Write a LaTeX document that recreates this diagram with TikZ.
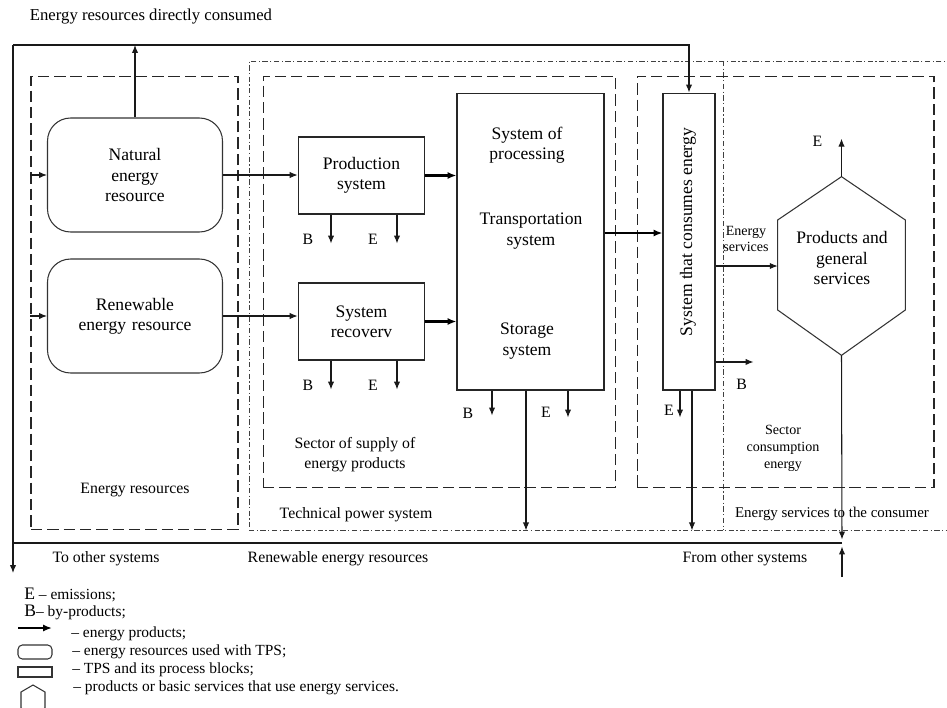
\documentclass[tikz,border=0pt]{standalone}
\usepackage{fontspec}
\setmainfont{Liberation Serif}
\usepackage{tikz}
\usetikzlibrary{shapes.geometric, arrows.meta}
\tikzstyle{resource} = [rectangle, rounded corners=0.46cm, minimum width=3.5cm, minimum height=2.28cm, text centered, text width=3.2cm, draw=black!80, line width=0.6pt, font=\fontsize{10}{11.5}\selectfont]
\tikzstyle{process} = [rectangle, minimum width=2.46cm, minimum height=1.54cm, text centered, text width=2.3cm, draw=black!85, line width=0.6pt, font=\fontsize{10}{11.5}\selectfont]
\tikzstyle{block} = [rectangle, minimum height=5.94cm, draw=black!85, line width=0.6pt]
\tikzstyle{sector} = [rectangle, draw=black!85, line width=0.6pt, dash pattern=on 6.5pt off 2.8pt]
\tikzstyle{region} = [rectangle, draw=black!75, line width=0.5pt, dash pattern=on 3pt off 1.4pt on 0.7pt off 1.4pt]
\tikzstyle{boxtxt} = [font=\fontsize{10}{11.5}\selectfont, align=center]
\tikzstyle{txt} = [font=\fontsize{9}{11.3}\selectfont, align=center]
\tikzstyle{smalltxt} = [font=\fontsize{8}{9.6}\selectfont, align=center]
\tikzstyle{legtxt} = [font=\fontsize{8.8}{10}\selectfont, anchor=west, inner sep=0pt]
\tikzstyle{arrow} = [-{Latex[length=4.5pt,width=3.6pt]}, draw=black!90, line width=0.6pt]
\tikzstyle{flow} = [-{Latex[length=5pt,width=4pt]}, draw=black, line width=1.4pt]

\begin{document}
\begin{tikzpicture}[x=0.02cm, y=-0.02cm]
	\useasboundingbox (0,0) rectangle (947,707);
	
	% frames of the sectors
	\node (tpsbox) [region, minimum width=14.8cm, minimum height=9.38cm] at (619,295.5) {};
	\draw [region] (723,61) -- (723,530);
	\node (resbox) [sector, minimum width=4.14cm, minimum height=9.08cm] at (134.5,303) {};
	\node (supplybox) [sector, minimum width=7.06cm, minimum height=8.24cm] at (439.5,282) {};
	\node (consbox) [sector, minimum width=5.94cm, minimum height=8.24cm] at (785.5,282) {};
	
	% blocks
	\node (natural) [resource] at (135,175) {Natural\\energy\\resource};
	\node (renewable) [resource] at (135,316) {Renewable\\energy resource};
	\node (prodsys) [process] at (361.5,175.5) {Production\\system};
	\node (recsys) [process] at (361.5,321.5) {System\\recoverv};
	\node (tps) [block, minimum width=2.94cm] at (530.5,241.5) {};
	\node (tpsproc) [boxtxt] at (527,145) {System of\\processing};
	\node (tpstrans) [boxtxt] at (531,231) {Transportation\\system};
	\node (tpsstore) [boxtxt] at (527,341) {Storage\\system};
	\node (consumer) [block, minimum width=1.04cm] at (689,241.5) {};
	\node (constxt) [boxtxt, rotate=90] at (688,232) {System that consumes energy};
	\node (service) [minimum width=2.54cm, minimum height=3.56cm] at (841.5,266) {};
	\node (servtxt) [boxtxt] at (842,258) {Products and\\general\\services};
	\draw [draw=black!80, line width=0.6pt] (service.north) -- ([yshift=0.92cm]service.east) -- ([yshift=-0.88cm]service.east) -- (service.south) -- ([yshift=-0.88cm]service.west) -- ([yshift=0.92cm]service.west) -- cycle;
	
	% outer loop
	\coordinate (topleft) at (13,45);
	\coordinate (outflow) at (13,573);
	\coordinate (inflow) at (842,577);
	\coordinate (junction) at (842,543);
	\draw [arrow] (natural.north) -- (natural.north |- topleft);
	\draw [arrow] (topleft) -| (consumer.north);
	\draw [arrow] (topleft) -- (outflow);
	\draw [draw=black!90, line width=0.6pt] (junction) -- (junction -| outflow);
	\draw [arrow] (inflow) -- ([yshift=-2pt]junction);
	\draw [arrow] (service.south) -- ([yshift=2pt]junction);
	
	% energy products
	\draw [arrow] (resbox.west |- natural.west) -- (natural.west);
	\draw [arrow] (resbox.west |- renewable.west) -- (renewable.west);
	\draw [arrow] (natural.east) -- (natural.east -| prodsys.west);
	\draw [arrow] (renewable.east) -- (renewable.east -| recsys.west);
	\draw [flow] (prodsys.east) -- (prodsys.east -| tps.west);
	\draw [flow] (recsys.east) -- (recsys.east -| tps.west);
	\draw [flow] ([yshift=0.17cm]tps.east) -- ([yshift=0.17cm]consumer.west);
	\draw [arrow] (consumer.east |- service.west) -- (service.west);
	\node (esvc) [smalltxt] at (746,239) {Energy\\services};
	
	% by-products and emissions
	\foreach \blk in {prodsys, recsys} {
		\draw [arrow] ([xshift=-0.61cm]\blk.south) -- ++(0,29) node [txt, xshift=-0.46cm, yshift=0.08cm] {B};
		\draw [arrow] ([xshift=0.71cm]\blk.south) -- ++(0,29) node [txt, xshift=-0.48cm, yshift=0.08cm] {E};
	}
	\draw [arrow] ([xshift=-0.77cm]tps.south) -- ++(0,25) node [txt, xshift=-0.48cm, yshift=0.04cm] {B};
	\draw [arrow] ([xshift=0.75cm]tps.south) -- ++(0,27) node [txt, xshift=-0.44cm, yshift=0.1cm] {E};
	\draw [arrow] ([xshift=-0.09cm]tps.south) -- ([xshift=-0.09cm]tps.south |- tpsbox.south);
	\draw [arrow] ([xshift=-0.18cm]consumer.south) -- ++(0,27) node [txt, xshift=-0.22cm, yshift=0.14cm] {E};
	\draw [arrow] ([xshift=0.06cm]consumer.south) -- ([xshift=0.06cm]consumer.south |- tpsbox.south);
	\draw [arrow] ([yshift=-2.41cm]consumer.east) -- ++(38,0) node [txt, xshift=-0.24cm, yshift=-0.44cm] {B};
	\draw [arrow] (service.north) -- ++(0,-38) node [txt, xshift=-0.48cm, yshift=-0.06cm] {E};
	
	% captions
	\node (title) [txt, font=\fontsize{9.5}{11}\selectfont] at (151,17) {Energy resources directly consumed};
	\node (reslbl) [txt] at (135,490) {Energy resources};
	\node (supplylbl) [txt] at (355,455) {Sector of supply of\\energy products};
	\node (tpslbl) [txt] at (356,515) {Technical power system};
	\node (conslbl) [smalltxt] at (783,448) {Sector\\consumption\\energy};
	\node (svclbl) [txt, font=\fontsize{8.5}{10}\selectfont] at (832,514) {Energy services to the consumer};
	\node (toother) [txt] at (106,559) {To other systems};
	\node (renewlbl) [txt] at (338,559) {Renewable energy resources};
	\node (fromother) [txt] at (745,559) {From other systems};
	
	% legend
	\node (legE) [legtxt] at (24,595) {{\fontsize{10}{12}\selectfont E} -- emissions;};
	\node (legB) [legtxt] at (24,612) {{\fontsize{10}{12}\selectfont B}-- by-products;};
	\draw [flow] (18,628) -- (52,628);
	\node (legflow) [legtxt] at (71,634) {-- energy products;};
	\draw [draw=black!80, line width=0.6pt, rounded corners=2.5pt] (18,645) rectangle (52,659);
	\node (legres) [legtxt] at (72,652) {-- energy resources used with TPS;};
	\draw [draw=black!80, line width=0.6pt] (18,667) rectangle (52,677);
	\node (legblk) [legtxt] at (72,670) {-- TPS and its process blocks;};
	\draw [draw=black!80, line width=0.6pt] (33,685) -- (45,692) -- (45,708) -- (33,715) -- (21,708) -- (21,692) -- cycle;
	\node (leghex) [legtxt] at (73,688) {-- products or basic services that use energy services.};
	
\end{tikzpicture}
\end{document}
